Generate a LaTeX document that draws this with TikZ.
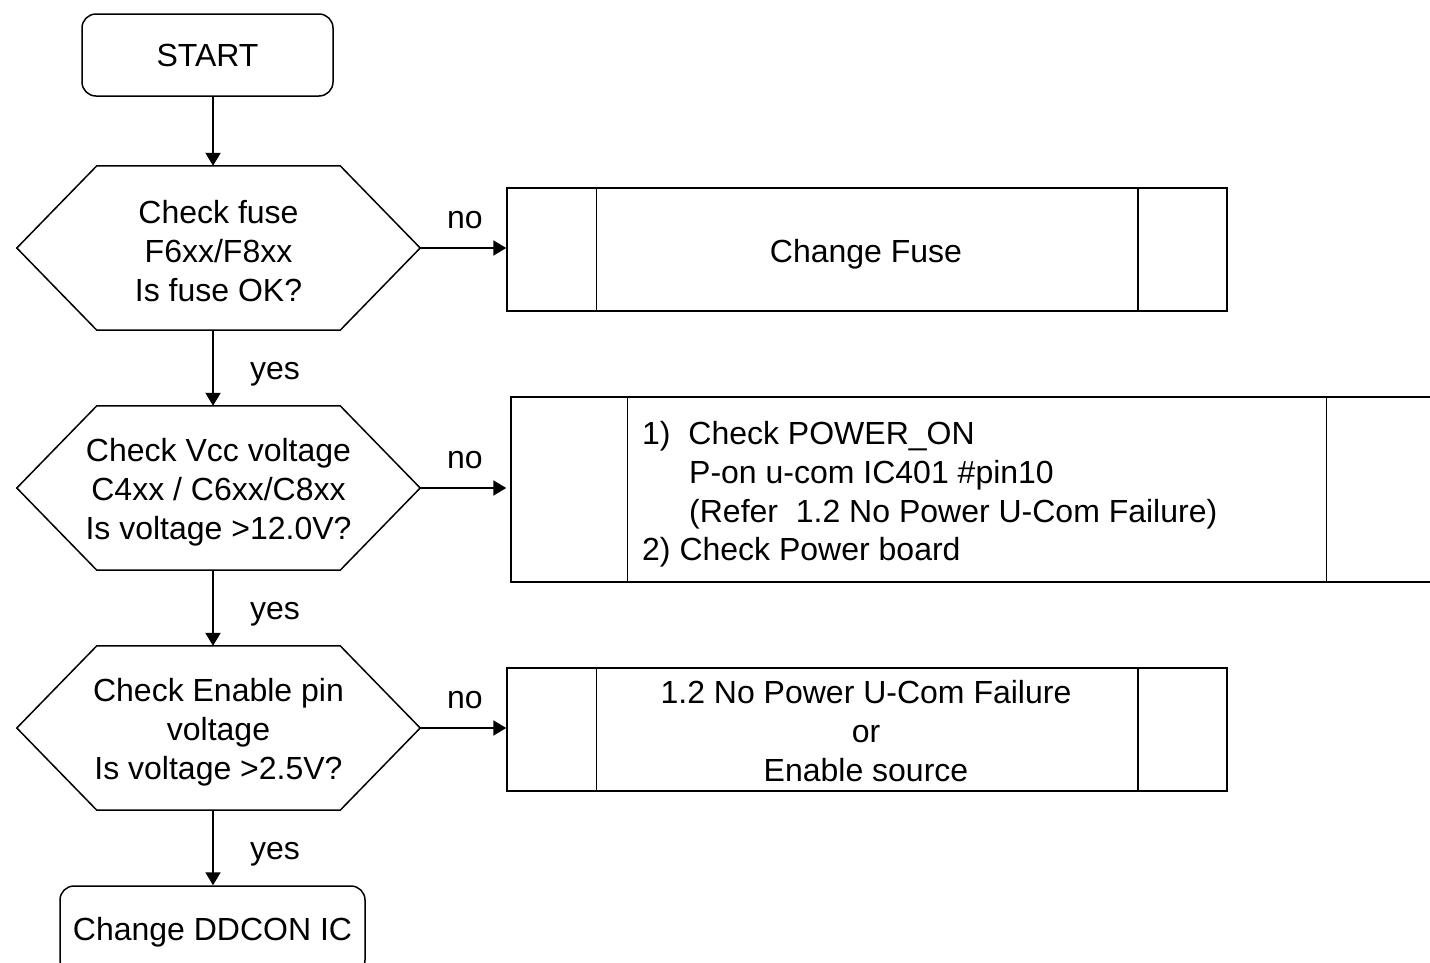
\documentclass[tikz,border=0pt]{standalone}
\usepackage{fontspec}
\setmainfont{Liberation Sans}
\usetikzlibrary{arrows.meta}
\begin{document}
\begin{tikzpicture}[x=1pt,y=-1pt,font=\fontsize{32}{38.8}\selectfont,
  ln/.style={line width=1.5pt},
  arr/.style={line width=2pt,-{Triangle[length=13pt,width=15pt]}},
  term/.style={draw,line width=1.5pt,rounded corners=14pt,inner sep=0pt},
  hexbox/.style={inner sep=0pt,minimum width=403pt,minimum height=164pt},
  proc/.style={draw,line width=1.5pt,inner sep=0pt},
  txt/.style={inner sep=0pt,align=center},
  lbl/.style={inner sep=0pt}]
\useasboundingbox (0,0) rectangle (1430,962);
\clip (0,0) rectangle (1430,962);
% terminals
\node[term,minimum width=251pt,minimum height=82pt] (start) at (207.5,55) {START};
\node[term,minimum width=305pt,minimum height=88pt] (endb) at (212.5,930) {};
\node[txt] (endt) at (212.5,932) {Change DDCON IC};
% decisions
\node[hexbox] (h1) at (218.5,248) {};
\node[hexbox] (h2) at (218.5,488) {};
\node[hexbox] (h3) at (218.5,728) {};
\foreach \h in {h1,h2,h3}{
  \draw[ln] (\h.west) -- ([xshift=80pt]\h.north west) -- ([xshift=-80pt]\h.north east)
    -- (\h.east) -- ([xshift=-80pt]\h.south east) -- ([xshift=80pt]\h.south west) -- cycle;
}
\node[txt] (h1t) at (218.5,251) {Check fuse\\F6xx/F8xx\\Is fuse OK?};
\node[txt] (h2t) at (218.5,492) {Check Vcc voltage\\C4xx / C6xx/C8xx\\Is voltage >12.0V?};
\node[txt] (h3t) at (218.5,732) {Check Enable pin\\voltage\\Is voltage >2.5V?};
% process boxes
\node[proc,minimum width=720pt,minimum height=123pt] (b1) at (867,249.5) {};
\node[proc,minimum width=929pt,minimum height=185pt] (b2) at (975.5,489.5) {};
\node[proc,minimum width=720pt,minimum height=123pt] (b3) at (867,729.5) {};
\foreach \b in {b1,b3}{
  \draw[ln] ([xshift=90pt]\b.north west) -- ([xshift=90pt]\b.south west);
  \draw[ln] ([xshift=-90pt]\b.north east) -- ([xshift=-90pt]\b.south east);
}
\draw[ln] ([xshift=117pt]b2.north west) -- ([xshift=117pt]b2.south west);
\draw[ln] ([xshift=816pt]b2.north west) -- ([xshift=816pt]b2.south west);
\node[txt] (b1t) at (866,254.5) {Change Fuse};
\node[txt] (b3t) at (866,731) {1.2 No Power U-Com Failure\\or\\Enable source};
\node[lbl,anchor=base west] (t1) at (642,444.5) {1)\ \ Check POWER\_ON};
\node[lbl,anchor=base west] (t2) at (689,483.3) {P-on u-com IC401 \#pin10};
\node[lbl,anchor=base west] (t3) at (689,522) {(Refer\ \ 1.2 No Power U-Com Failure)};
\node[lbl,anchor=base west] (t4) at (642,560.8) {2) Check Power board};
% connectors
\draw[arr] ([xshift=5.5pt]start.south) -- ([xshift=5.5pt]start.south |- h1.north);
\draw[arr] ([xshift=-5.5pt]h1.south) -- ([xshift=-5.5pt]h2.north);
\draw[arr] ([xshift=-5.5pt]h2.south) -- ([xshift=-5.5pt]h3.north);
\draw[arr] ([xshift=-5.5pt]h3.south) -- ([xshift=-5.5pt]h3.south |- endb.north);
\draw[arr] (h1.east) -- (h1.east -| b1.west);
\draw[arr] (h2.east) -- ([xshift=-4pt]h2.east -| b2.west);
\draw[arr] (h3.east) -- (h3.east -| b3.west);
% labels
\node[lbl] (n1) at (465,220) {no};
\node[lbl] (n2) at (465,460) {no};
\node[lbl] (n3) at (465,700) {no};
\node[lbl] (y1) at (275,374) {yes};
\node[lbl] (y2) at (275,614) {yes};
\node[lbl] (y3) at (275,854) {yes};
\end{tikzpicture}
\end{document}
